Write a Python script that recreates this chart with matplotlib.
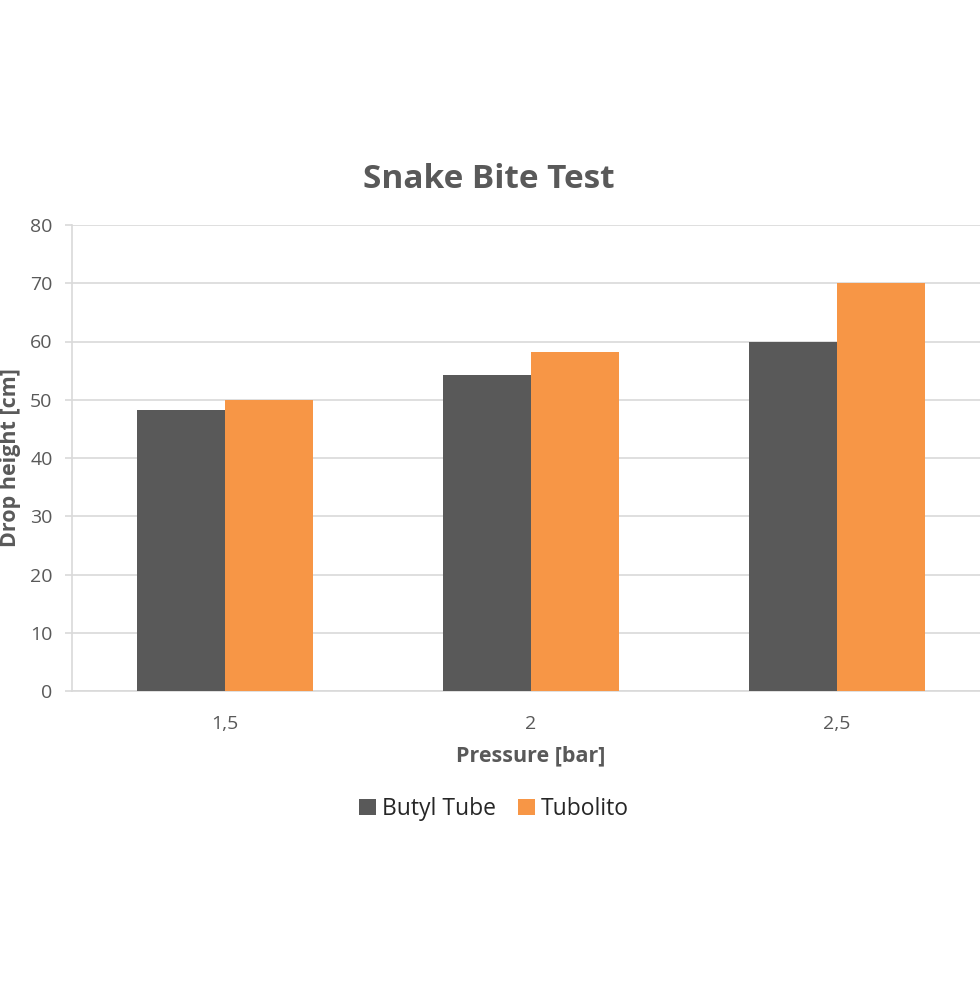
import numpy as np
import matplotlib
matplotlib.use('Agg')
import matplotlib.pyplot as plt

# Data
categories = ['1,5', '2', '2,5']
butyl = [48.3, 54.2, 60.0]
tubolito = [50.0, 58.2, 70.0]
series_names = ['Butyl Tube', 'Tubolito']

DARK = '#595959'
ORANGE = '#f79646'
GRID = '#d9d9d9'
TEXT = '#595959'

plt.rcParams['font.family'] = ['Open Sans', 'DejaVu Sans']

fig = plt.figure(figsize=(9.8, 9.81), dpi=100)
W, H = 980, 981
# plot area in pixels: left 72, right 990 (runs past the edge), top 225, bottom 691
ax = fig.add_axes([72 / W, (H - 691) / H, (990 - 72) / W, (691 - 225) / H])

x = np.arange(len(categories))
bw = 0.287
ax.bar(x - bw / 2, butyl, bw, color=DARK, label=series_names[0], zorder=3)
ax.bar(x + bw / 2, tubolito, bw, color=ORANGE, label=series_names[1], zorder=3)

ax.set_xlim(-0.5, 2.5)
ax.set_ylim(0, 80)
ax.set_yticks(np.arange(0, 81, 10))
ax.set_xticks(x)
ax.set_xticklabels(categories)
ax.yaxis.grid(True, color=GRID, linewidth=1.2, zorder=0)
ax.set_axisbelow(True)

for s in ['top', 'right']:
    ax.spines[s].set_visible(False)
ax.spines['left'].set_color(GRID)
ax.spines['bottom'].set_color(GRID)
ax.spines['left'].set_linewidth(1.2)
ax.spines['bottom'].set_linewidth(1.2)

ax.tick_params(axis='y', colors=GRID, labelcolor=TEXT, labelsize=14, length=5, width=1.2, pad=9)
ax.tick_params(axis='x', length=0, labelcolor=TEXT, labelsize=14, pad=17)

fig.text(489 / W, 1 - 180 / H, 'Snake Bite Test', ha='center', va='center',
         fontsize=24, fontweight='bold', color=TEXT)
fig.text(11 / W, 1 - 458 / H, 'Drop height [cm]', ha='center', va='center',
         rotation=90, fontsize=15.5, fontweight='bold', color=TEXT)
fig.text(531 / W, 1 - 756 / H, 'Pressure [bar]', ha='center', va='center',
         fontsize=15.5, fontweight='bold', color=TEXT)

fig.legend(loc='center', bbox_to_anchor=(494 / W, 1 - 809 / H), ncol=2, frameon=False,
           fontsize=16.5, handlelength=0.72, handleheight=0.72, handletextpad=0.25,
           columnspacing=1.0, labelcolor='#262626')

fig.savefig('out.png', dpi=100)
